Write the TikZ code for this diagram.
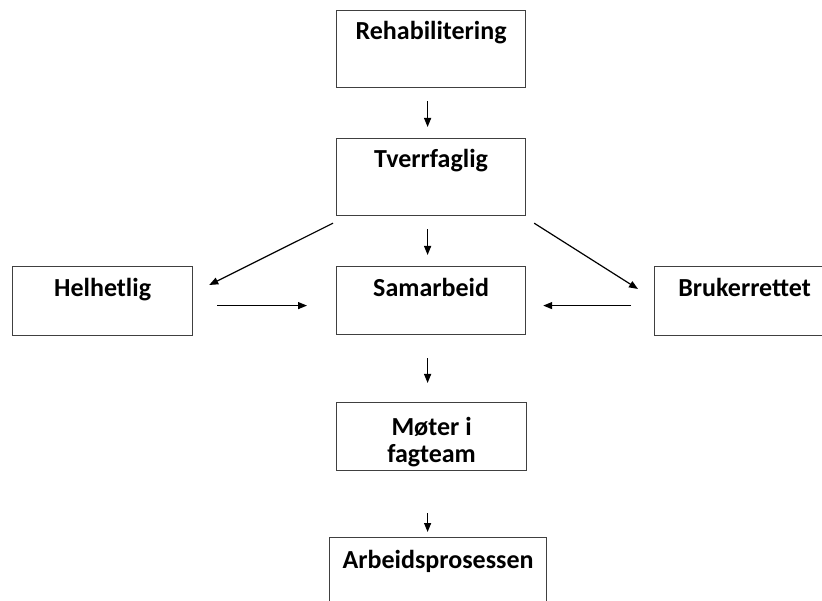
\documentclass[tikz,border=0pt]{standalone}
\usepackage{fontspec}
\setmainfont{Carlito}
\usetikzlibrary{arrows.meta,calc}
\begin{document}
\begin{tikzpicture}[x=1pt,y=-1pt,
  box/.style={draw=black!75, line width=1.2pt, rectangle, inner sep=0pt, anchor=north west},
  lbl/.style={font=\fontsize{26}{27}\selectfont\bfseries, anchor=base, inner sep=0pt, align=center},
  arr/.style={draw=black, line width=1.2pt, -{Triangle[length=9pt,width=7pt]}}]
\useasboundingbox (0,0) rectangle (822,601);
\clip (0,0) rectangle (822,601);
% boxes
\node[box, minimum width=189pt, minimum height=77pt] (rehab)  at (336,10)  {};
\node[box, minimum width=189pt, minimum height=77pt] (tverr)  at (336,138) {};
\node[box, minimum width=189pt, minimum height=68pt] (samarb) at (336,266) {};
\node[box, minimum width=180pt, minimum height=69pt] (helh)   at (12,266)  {};
\node[box, minimum width=180pt, minimum height=69pt] (bruker) at (654,266) {};
\node[box, minimum width=190pt, minimum height=68pt] (moter)  at (336,402) {};
\node[box, minimum width=217pt, minimum height=77pt] (arbeid) at (329,537) {};
% labels
\node[lbl] (rehabT)  at ($(rehab.north)+(0,30)$)  {Rehabilitering};
\node[lbl] (tverrT)  at ($(tverr.north)+(0,30)$)  {Tverrfaglig};
\node[lbl] (samarbT) at ($(samarb.north)+(0,31)$) {Samarbeid};
\node[lbl] (helhT)   at ($(helh.north)+(0,31)$)   {Helhetlig};
\node[lbl] (brukerT) at ($(bruker.north)+(0,31)$) {Brukerrettet};
\node[lbl] (moterT)  at ($(moter.north)+(0,60)$)  {Møter i\\fagteam};
\node[lbl] (arbeidT) at ($(arbeid.north)+(0,31)$) {Arbeidsprosessen};
% connectors
\draw[arr] ($(rehab.south)+(-3.5,13)$) -- ($(tverr.north)+(-3.5,-11)$);
\draw[arr] ($(tverr.south)+(-3.5,13)$) -- ($(samarb.north)+(-3.5,-11)$);
\draw[arr] ($(samarb.south)+(-3.5,23)$) -- ($(moter.north)+(-4,-19)$);
\draw[arr] ($(moter.south)+(-4,42)$) -- ($(arbeid.north)+(-10.5,-5)$);
\draw[arr] ($(tverr.south west)+(-3,7)$) -- ($(helh.north east)+(16,19)$);
\draw[arr] ($(tverr.south east)+(8,7)$) -- ($(bruker.north west)+(-16,23)$);
\draw[arr] ($(helh.east)+(24,4.5)$) -- ($(samarb.west)+(-29,5)$);
\draw[arr] ($(bruker.west)+(-23,4.5)$) -- ($(samarb.east)+(17,5)$);
\end{tikzpicture}
\end{document}
